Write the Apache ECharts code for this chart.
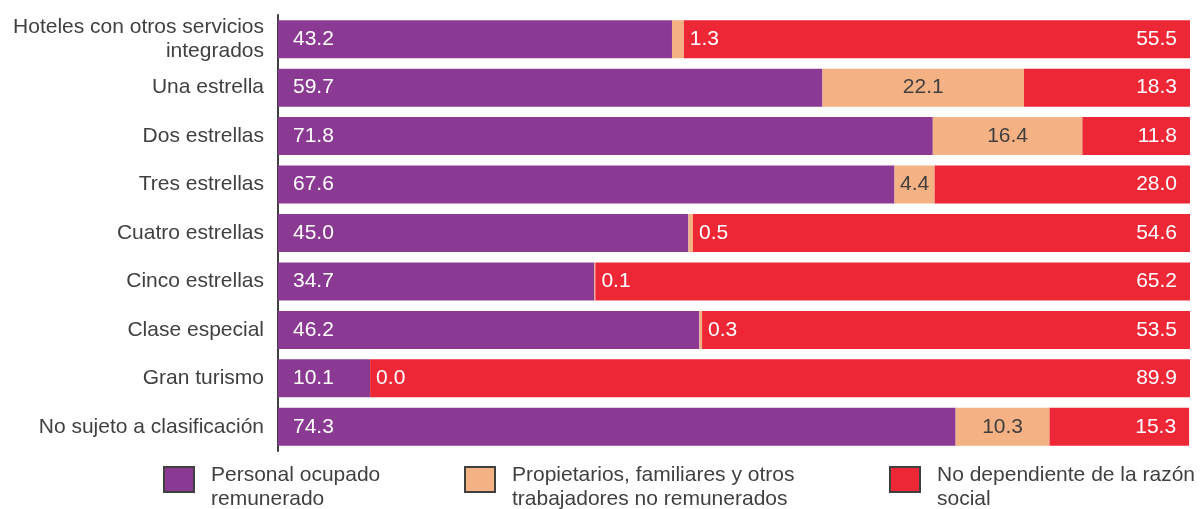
<!DOCTYPE html>
<html><head><meta charset="utf-8">
<script src="https://cdn.jsdelivr.net/npm/echarts@6/dist/echarts.min.js"></script>
<style>html,body{margin:0;padding:0;background:#fff}#c{width:1203px;height:509px}</style>
</head><body><div id="c"></div>
<script>
const categories = ["Hoteles con otros servicios\nintegrados","Una estrella","Dos estrellas","Tres estrellas","Cuatro estrellas","Cinco estrellas","Clase especial","Gran turismo","No sujeto a clasificación"];
const seriesNames = ["Personal ocupado\nremunerado","Propietarios, familiares y otros\ntrabajadores no remunerados","No dependiente de la razón\nsocial"];
const remunerado = [43.2,59.7,71.8,67.6,45.0,34.7,46.2,10.1,74.3];
const noRemunerado = [1.3,22.1,16.4,4.4,0.5,0.1,0.3,0.0,10.3];
const noDependiente = [55.5,18.3,11.8,28.0,54.6,65.2,53.5,89.9,15.3];

const FONT = '"Liberation Sans", Arial, sans-serif';
const TXT = '#404040';
const colors = ['#8B3A93','#F4B183','#EE2737'];

const fmt = p => Number(p.value).toFixed(1);
const orangeData = noRemunerado.map(v => v >= 3
  ? {value: v, label: {position: 'inside', color: TXT}}
  : {value: v, label: {position: 'right', distance: 6, color: '#fff'}});

const chart = echarts.init(document.getElementById('c'));
const legendBase = (name, left) => ({
  data: [name], left: left, top: 453, orient: 'horizontal', padding: 0,
  icon: 'rect', itemWidth: 30, itemHeight: 25,
  itemStyle: {borderColor: TXT, borderWidth: 2},
  formatter: n => '{s| }\n' + n.split('\n').map(l => '{t|' + l + '}').join('\n'),
  textStyle: {fontFamily: FONT, fontSize: 21, color: TXT, padding: [0,0,0,12],
    rich: {s: {fontSize: 4, lineHeight: 15}, t: {fontFamily: FONT, fontSize: 21, color: TXT, lineHeight: 24.5}}},
  selectedMode: false
});
chart.setOption({
  animation: false,
  grid: {left: 278, right: 13, top: 15, bottom: 58, containLabel: false},
  xAxis: {type: 'value', min: 0, max: 100, show: false},
  yAxis: {type: 'category', data: categories, inverse: true, offset: 2,
    axisLine: {show: true, lineStyle: {color: TXT, width: 2}},
    axisTick: {show: false},
    axisLabel: {fontFamily: FONT, fontSize: 21, color: TXT, margin: 12, lineHeight: 24, align: 'right'}},
  legend: [legendBase(seriesNames[0], 163), legendBase(seriesNames[1], 464), legendBase(seriesNames[2], 889)],
  series: [
    {name: seriesNames[0], type: 'bar', stack: 't', barWidth: 38, data: remunerado,
     itemStyle: {color: colors[0]},
     label: {show: true, position: 'insideLeft', distance: 15, color: '#fff', fontFamily: FONT, fontSize: 21, formatter: fmt}},
    {name: seriesNames[1], type: 'bar', stack: 't', barWidth: 38, data: orangeData,
     itemStyle: {color: colors[1]},
     label: {show: true, fontFamily: FONT, fontSize: 21, formatter: fmt}},
    {name: seriesNames[2], type: 'bar', stack: 't', barWidth: 38, data: noDependiente,
     itemStyle: {color: colors[2]},
     label: {show: true, position: 'insideRight', distance: 13, color: '#fff', fontFamily: FONT, fontSize: 21, formatter: fmt}}
  ]
});
</script></body></html>
